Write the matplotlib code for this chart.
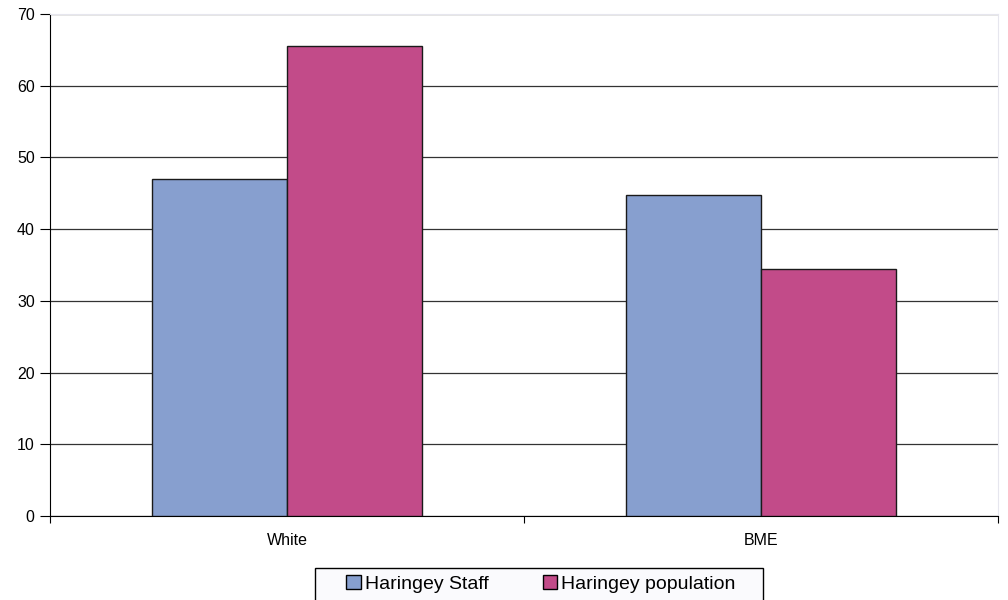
import matplotlib
matplotlib.use("Agg")
import matplotlib.pyplot as plt
from matplotlib.patches import Rectangle
import numpy as np

categories = ["White", "BME"]
series_names = ["Haringey Staff", "Haringey population"]
staff = [47.0, 44.8]
population = [65.6, 34.4]
yticks = [0, 10, 20, 30, 40, 50, 60, 70]

colors = ["#879FCF", "#C24B89"]

plt.rcParams['font.family'] = ['Liberation Sans', 'DejaVu Sans']

fig = plt.figure(figsize=(10.08, 6.0), dpi=100)
ax = fig.add_axes([50/1008, 1-516/600, 948/1008, 502/600])

x = np.arange(len(categories))
w = 1/3.5
ax.bar(x - w/2, staff, w, color=colors[0], edgecolor="#1a1a1a", linewidth=1.0, label=series_names[0], zorder=3)
ax.bar(x + w/2, population, w, color=colors[1], edgecolor="#1a1a1a", linewidth=1.0, label=series_names[1], zorder=3)

ax.set_xlim(-0.5, len(categories) - 0.5)
ax.set_ylim(0, 70)
ax.set_yticks(yticks)
ax.set_yticklabels([str(v) for v in yticks], fontsize=11.5)
ax.yaxis.grid(True, color="#333333", linewidth=0.9, zorder=0)
ax.set_axisbelow(True)

# x ticks at category boundaries, labels at centers
ax.set_xticks(np.arange(-0.5, len(categories), 1.0))
ax.set_xticklabels([])
ax.set_xticks(x, minor=True)
ax.set_xticklabels(categories, minor=True, fontsize=11.5)
ax.tick_params(axis='x', which='minor', length=0, pad=12)
ax.tick_params(axis='x', which='major', length=5, direction='out', color='black')
ax.tick_params(axis='y', length=7, direction='out', color='black', pad=4)

for s in ["top", "right"]:
    ax.spines[s].set_color("#e6e6ee")
ax.spines["left"].set_color("black")
ax.spines["bottom"].set_color("black")

# legend frame (extends beyond the bottom edge as in the reference)
fig.patches.append(Rectangle((315/1008, 1-610/600), 448/1008, 42/600,
                             transform=fig.transFigure, facecolor="#fafafd",
                             edgecolor="black", linewidth=1.0, zorder=1))

leg = fig.legend(loc="center", bbox_to_anchor=(541/1008, 1-584/600),
                 ncol=2, fontsize=14, frameon=False,
                 handlelength=0.75, handleheight=0.75, handletextpad=0.2,
                 columnspacing=2.8, borderaxespad=0, borderpad=0)
for h in leg.legend_handles:
    h.set_edgecolor("black")

fig.savefig("out.png", dpi=100)
